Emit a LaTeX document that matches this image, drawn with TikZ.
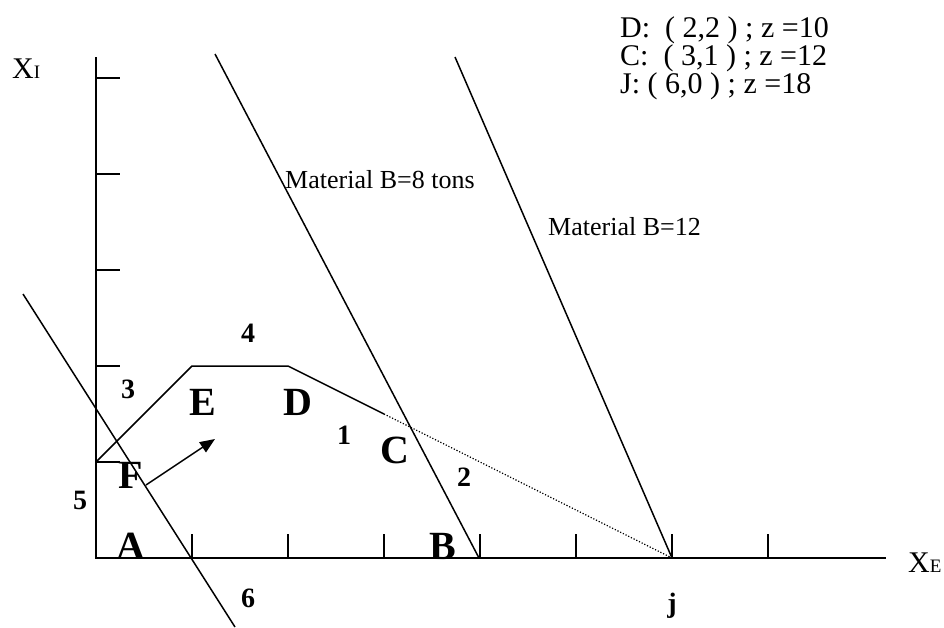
\documentclass[tikz,border=0pt]{standalone}
\usepackage{fontspec}
\setmainfont{Liberation Serif}
\usetikzlibrary{arrows.meta}
\tikzset{
  axisline/.style={line width=1.8pt},
  cline/.style={line width=1.5pt},
  letterlbl/.style={font=\fontsize{40}{40}\selectfont\bfseries, inner sep=0pt},
  numlbl/.style={font=\fontsize{28}{28}\selectfont\bfseries, inner sep=0pt},
  mattxt/.style={font=\fontsize{26}{26}\selectfont, inner sep=0pt, anchor=base west},
  ztxt/.style={font=\fontsize{30}{30}\selectfont, inner sep=0pt, anchor=base west},
  axtxt/.style={font=\fontsize{30}{30}\selectfont, inner sep=0pt, anchor=base west},
}

\begin{document}
\begin{tikzpicture}[x=1pt,y=-1pt]
    \useasboundingbox (0,0) rectangle (944,627);

    \coordinate (O)     at (96,558);
    \coordinate (ytop)  at (96,57);
    \coordinate (xend)  at (886,558);
    \coordinate (F)     at (96,462);
    \coordinate (E)     at (192,366);
    \coordinate (D)     at (288,366);
    \coordinate (C)     at (384,414);
    \coordinate (J)     at (672,558);
    \coordinate (B)     at (479,558);
    \coordinate (b8top) at (215,54);
    \coordinate (b12top) at (455,57);
    \coordinate (sixtop) at (23,294);
    \coordinate (sixbot) at (235,627);
    \coordinate (dirfrom) at (146,485);
    \coordinate (dirto)   at (215,439);

    % axes and ticks
    \draw[axisline] (ytop) -- (O) -- (xend);
    \foreach \k in {1,...,5}
      \draw[axisline] (96,{558-96*\k}) -- +(24,0);
    \foreach \k in {1,...,7}
      \draw[axisline] ({96+96*\k},558) -- +(0,-24);

    % feasible boundary
    \draw[cline] (F) -- (E) -- (D) -- (C);
    \draw[line width=1.2pt, dash pattern=on 1.2pt off 1.8pt] (C) -- (J);

    % constraint and objective lines
    \draw[cline] (b8top) -- (B);
    \draw[cline] (b12top) -- (J);
    \draw[cline] (sixtop) -- (sixbot);
    \draw[cline, -{Triangle[length=15pt,width=12pt]}] (dirfrom) -- (dirto);

    \node[axtxt] (xi) at (12,78)  {X\fontsize{19}{19}\selectfont I};
    \node[axtxt] (xe) at (908,572) {X\fontsize{19}{19}\selectfont E};

    \node[ztxt] (zd) at (620,37) {D:\ \ ( 2,2 ) ; z =10};
    \node[ztxt] (zc) at (620,65) {C:\ \ ( 3,1 ) ; z =12};
    \node[ztxt] (zj) at (620,93) {J: ( 6,0 ) ; z =18};

    \node[mattxt] (m8)  at (285,188) {Material B=8 tons};
    \node[mattxt] (m12) at (548,235) {Material B=12};

    \node[letterlbl] (la) at (131,546) {A};
    \node[letterlbl] (lb) at (443,546) {B};
    \node[letterlbl] (lc) at (395,450) {C};
    \node[letterlbl] (ld) at (298,402) {D};
    \node[letterlbl] (le) at (203,402) {E};
    \node[letterlbl] (lf) at (131,475) {F};
    \node[numlbl] (lj) at (672,606) {j};

    \node[numlbl] (n1) at (344,435) {1};
    \node[numlbl] (n2) at (464,477) {2};
    \node[numlbl] (n3) at (128,389) {3};
    \node[numlbl] (n4) at (248,333) {4};
    \node[numlbl] (n5) at (80,500)  {5};
    \node[numlbl] (n6) at (248,598) {6};
  \end{tikzpicture}
\end{document}
